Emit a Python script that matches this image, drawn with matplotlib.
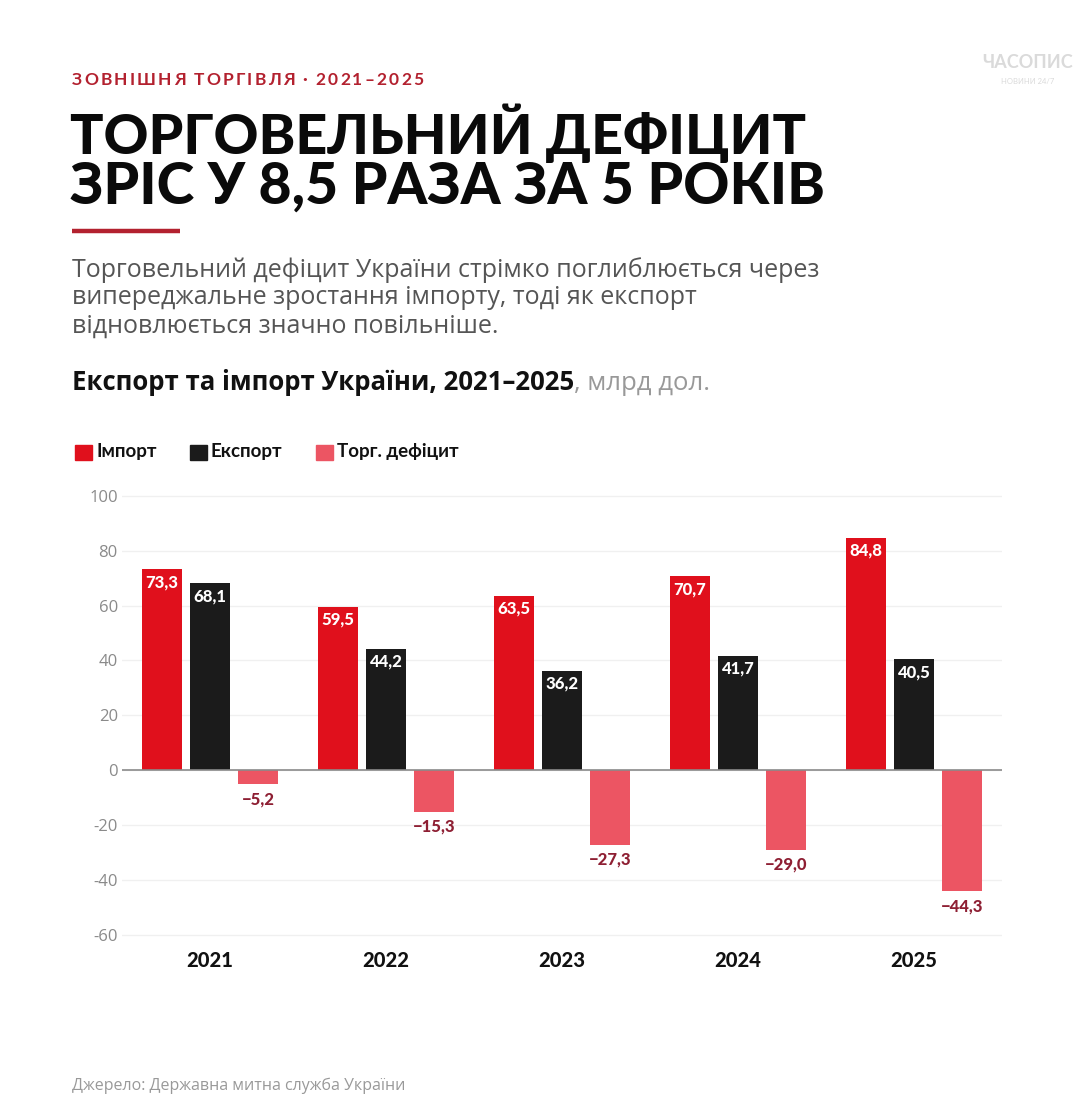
import matplotlib
matplotlib.use("Agg")
import matplotlib.pyplot as plt
import numpy as np

years = ["2021", "2022", "2023", "2024", "2025"]
imports = [73.3, 59.5, 63.5, 70.7, 84.8]
exports = [68.1, 44.2, 36.2, 41.7, 40.5]
deficit = [-5.2, -15.3, -27.3, -29.0, -44.3]
yticks = [100, 80, 60, 40, 20, 0, -20, -40, -60]
legend_labels = ["Імпорт", "Експорт", "Торг. дефіцит"]

C_IMP = "#e0101c"
C_EXP = "#1b1b1b"
C_DEF = "#ec5563"
C_DEF_TXT = "#8e1f33"
C_ACCENT = "#b3212f"

W, H = 1092, 1113
fig = plt.figure(figsize=(W / 100, H / 100), dpi=100)
fig.patch.set_facecolor("white")

def fx(x):
    return x / W

def fy(y):
    return 1 - y / H

def fmt(v):
    s = f"{abs(v):.1f}".replace(".", ",")
    return ("\u2212" + s) if v < 0 else s

TITLE_FONT = ["Lato", "DejaVu Sans"]
BODY_FONT = ["Open Sans", "DejaVu Sans"]

renderer = fig.canvas.get_renderer()

def tracked_text(x_px, y_px, s, tracking_px, **kw):
    cur = x_px
    for ch in s:
        t = fig.text(fx(cur), fy(y_px), ch, va="center", ha="left", **kw)
        w = t.get_window_extent(renderer=renderer).width
        if ch == " ":
            w = kw.get("fontsize", 10) * 0.3
        cur += w + tracking_px

# Kicker (letter-spaced)
tracked_text(72, 80, "ЗОВНІШНЯ ТОРГІВЛЯ · 2021–2025", 2.2, family=TITLE_FONT,
             fontsize=12.5, fontweight="bold", color=C_ACCENT)
# Title
fig.text(fx(70), fy(133), "ТОРГОВЕЛЬНИЙ ДЕФІЦИТ", family=TITLE_FONT,
         fontsize=40, fontweight="black", color="#0a0a0a", va="center", ha="left")
fig.text(fx(70), fy(187), "ЗРІС У 8,5 РАЗА ЗА 5 РОКІВ", family=TITLE_FONT,
         fontsize=41, fontweight="black", color="#0a0a0a", va="center", ha="left")
# Accent rule
fig.add_artist(plt.Line2D([fx(72), fx(180)], [fy(231), fy(231)], color=C_ACCENT,
                          linewidth=3.2, solid_capstyle="butt"))
# Paragraph
para = ["Торговельний дефіцит України стрімко поглиблюється через",
        "випереджальне зростання імпорту, тоді як експорт",
        "відновлюється значно повільніше."]
for i, line in enumerate(para):
    fig.text(fx(72), fy(270 + i * 28), line, family=BODY_FONT, fontsize=18,
             color="#555555", va="center", ha="left")

# Chart heading
t = fig.text(fx(72), fy(383), "Експорт та імпорт України, 2021–2025", family=BODY_FONT,
             fontsize=18.5, fontweight="bold", color="#111111", va="center", ha="left")
bb = t.get_window_extent(renderer=renderer)
fig.text(bb.x1 / W, fy(383), ", млрд дол.", family=BODY_FONT, fontsize=18.5,
         color="#999999", va="center", ha="left")

# Watermark
fig.text(fx(1028), fy(63), "ЧАСОПИС", family=TITLE_FONT, fontsize=13, fontweight="bold",
         color="#dadada", va="center", ha="center")
fig.text(fx(1028), fy(82), "НОВИНИ 24/7", family=TITLE_FONT, fontsize=5.5,
         color="#dadada", va="center", ha="center")

# Axes
ax = fig.add_axes([fx(122), fy(940), (1002 - 122) / W, (940 - 490.5) / H])
x = np.arange(len(years))
bw = 0.227
off = 0.273
ax.bar(x - off, imports, bw, color=C_IMP, zorder=3)
ax.bar(x, exports, bw, color=C_EXP, zorder=3)
ax.bar(x + off, deficit, bw, color=C_DEF, zorder=3)

for xi, v in zip(x - off, imports):
    ax.text(xi, v - 1.8, fmt(v), ha="center", va="top", color="white",
            fontsize=12, fontweight="black", family=TITLE_FONT, zorder=4)
for xi, v in zip(x, exports):
    ax.text(xi, v - 1.8, fmt(v), ha="center", va="top", color="white",
            fontsize=12, fontweight="black", family=TITLE_FONT, zorder=4)
for xi, v in zip(x + off, deficit):
    ax.text(xi, v - 2.5, fmt(v), ha="center", va="top", color=C_DEF_TXT,
            fontsize=12, fontweight="black", family=TITLE_FONT, zorder=4)

ax.set_xlim(-0.5, len(years) - 0.5)
ax.set_ylim(-62, 102)
ax.set_yticks(yticks)
ax.set_yticklabels([str(v) for v in yticks], family=BODY_FONT, fontsize=12, color="#8a8a8a")
ax.set_xticks(x)
ax.set_xticklabels(years, family=TITLE_FONT, fontsize=14.5, fontweight="black", color="#111111")
ax.tick_params(axis="both", length=0)
ax.tick_params(axis="y", pad=3)
ax.tick_params(axis="x", pad=8)
ax.grid(axis="y", color="#f0f0f0", linewidth=1, zorder=0)
ax.axhline(0, color="#8a8a8a", linewidth=1.2, zorder=5)
for s in ax.spines.values():
    s.set_visible(False)

# Legend
leg_items = [(75, C_IMP, legend_labels[0]), (190, C_EXP, legend_labels[1]), (316, C_DEF, legend_labels[2])]
for lx, c, lab in leg_items:
    fig.patches.append(matplotlib.patches.Rectangle((fx(lx), fy(460)), 17 / W, 15 / H,
                                                    transform=fig.transFigure, color=c, figure=fig))
    fig.text(fx(lx + 21), fy(452), lab, family=TITLE_FONT, fontsize=13.5, fontweight="bold",
             color="#111111", va="center", ha="left")

# Source
fig.text(fx(72), fy(1086), "Джерело: Державна митна служба України", family=BODY_FONT,
         fontsize=11.5, color="#999999", va="center", ha="left")

fig.savefig("out.png", dpi=100, facecolor="white")
